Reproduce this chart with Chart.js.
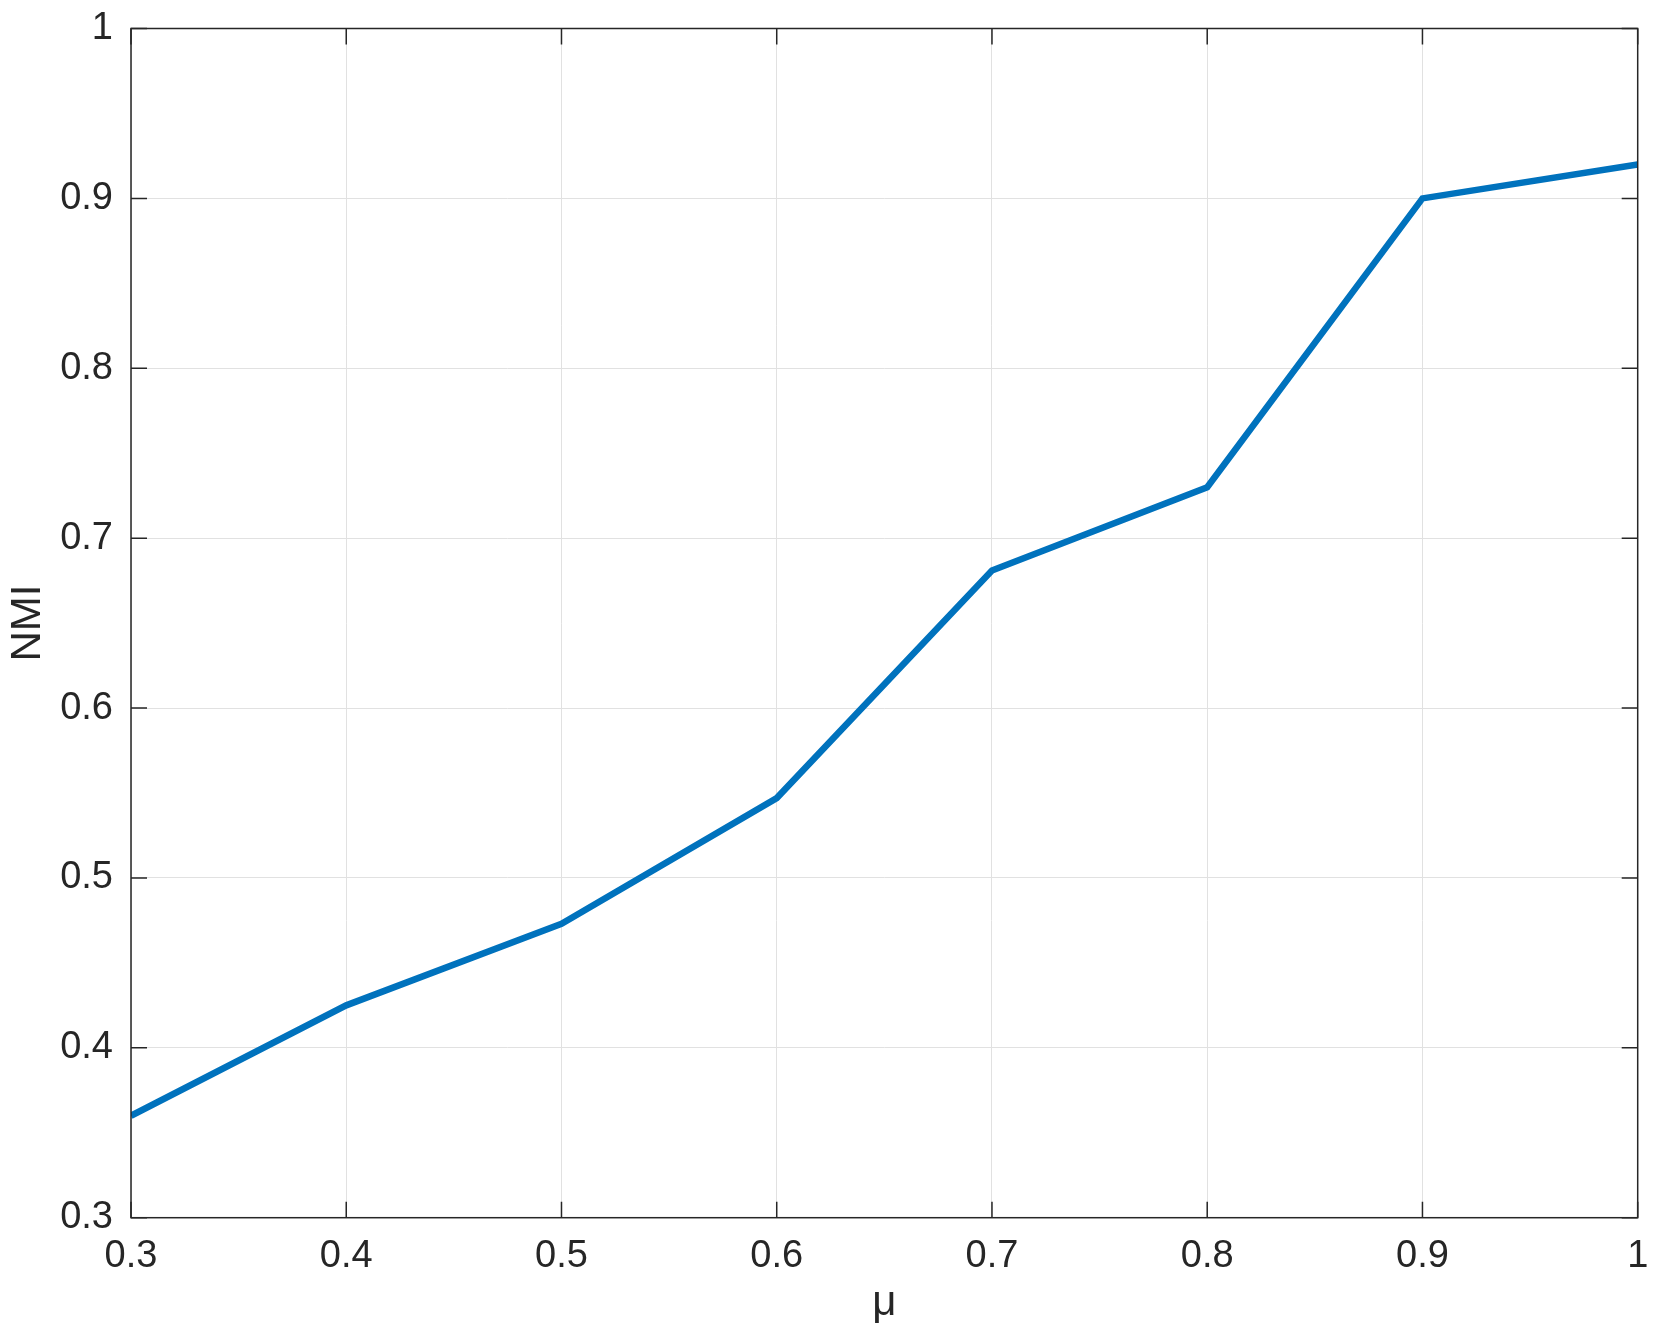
<!DOCTYPE html>
<html>
<head>
<meta charset="utf-8">
<script src="https://cdn.jsdelivr.net/npm/chart.js@4"></script>
<style>
  html, body { margin: 0; padding: 0; background: #ffffff; }
  #wrap { width: 1654px; height: 1341px; position: relative; }
</style>
</head>
<body>
<div id="wrap"><canvas id="c" width="1654" height="1341"></canvas></div>
<script>
const muValues = [0.3, 0.4, 0.5, 0.6, 0.7, 0.8, 0.9, 1.0];
const nmiValues = [0.360, 0.425, 0.473, 0.547, 0.681, 0.730, 0.900, 0.920];
const xTickValues = [0.3, 0.4, 0.5, 0.6, 0.7, 0.8, 0.9, 1.0];
const yTickValues = [0.3, 0.4, 0.5, 0.6, 0.7, 0.8, 0.9, 1.0];
const xTitle = 'μ';
const yTitle = 'NMI';

const axisColor = '#262626';
const fontFamily = "'Liberation Sans', Arial, Helvetica, sans-serif";

function fmt(v) { return String(Number(v.toFixed(2))); }
function zeroPad(scale) {
  scale.paddingTop = 0; scale.paddingBottom = 0;
  scale.paddingLeft = 0; scale.paddingRight = 0;
}

const boxTicks = {
  id: 'boxTicks',
  afterDraw(chart) {
    const {ctx, chartArea: a, scales} = chart;
    const len = 16;
    ctx.save();
    ctx.strokeStyle = axisColor;
    ctx.lineWidth = 1.5;
    xTickValues.forEach(v => {
      const x = scales.x.getPixelForValue(v);
      ctx.beginPath();
      ctx.moveTo(x, a.bottom); ctx.lineTo(x, a.bottom - len);
      ctx.moveTo(x, a.top); ctx.lineTo(x, a.top + len);
      ctx.stroke();
    });
    yTickValues.forEach(v => {
      const y = scales.y.getPixelForValue(v);
      ctx.beginPath();
      ctx.moveTo(a.left, y); ctx.lineTo(a.left + len, y);
      ctx.moveTo(a.right, y); ctx.lineTo(a.right - len, y);
      ctx.stroke();
    });
    ctx.strokeRect(a.left, a.top, a.right - a.left, a.bottom - a.top);
    ctx.restore();
  }
};

new Chart(document.getElementById('c'), {
  type: 'line',
  data: {
    datasets: [{
      data: muValues.map((m, i) => ({x: m, y: nmiValues[i]})),
      borderColor: '#0072BD',
      borderWidth: 6.5,
      pointRadius: 0,
      tension: 0,
      fill: false
    }]
  },
  options: {
    responsive: false,
    animation: false,
    devicePixelRatio: 1,
    layout: { autoPadding: false, padding: { top: 28.5, right: 16.3, left: 0, bottom: 0 } },
    plugins: { legend: { display: false }, tooltip: { enabled: false } },
    scales: {
      x: {
        type: 'linear',
        min: 0.3, max: 1.0,
        afterBuildTicks(scale) { scale.ticks = xTickValues.map(v => ({value: v})); },
        afterFit(scale) { scale.height = 123.3; zeroPad(scale); },
        grid: { color: '#e1e1e1', lineWidth: 1, drawTicks: false },
        border: { display: false },
        ticks: {
          padding: 16,
          color: axisColor,
          font: { family: fontFamily, size: 38 },
          maxRotation: 0,
          callback: v => fmt(v)
        },
        title: {
          display: true, text: xTitle, color: axisColor,
          font: { family: fontFamily, size: 42 },
          padding: { top: 0, bottom: 12 }
        }
      },
      y: {
        type: 'linear',
        min: 0.3, max: 1.0,
        afterBuildTicks(scale) { scale.ticks = yTickValues.map(v => ({value: v})); },
        afterFit(scale) { scale.width = 131; zeroPad(scale); },
        grid: { color: '#e1e1e1', lineWidth: 1, drawTicks: false },
        border: { display: false },
        ticks: {
          padding: 18,
          color: axisColor,
          font: { family: fontFamily, size: 38 },
          callback: v => fmt(v)
        },
        title: {
          display: true, text: yTitle, color: axisColor,
          font: { family: fontFamily, size: 42 },
          padding: { top: 3, bottom: 0 }
        }
      }
    }
  },
  plugins: [boxTicks]
});
</script>
</body>
</html>
